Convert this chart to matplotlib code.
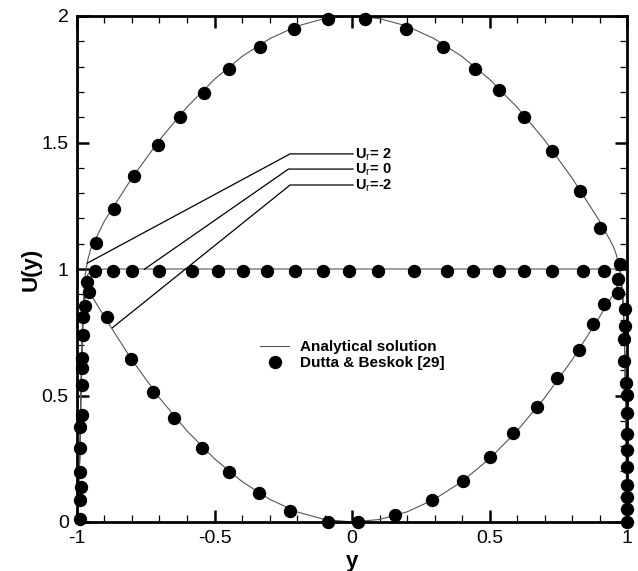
import matplotlib
matplotlib.use("Agg")
import matplotlib.pyplot as plt
from matplotlib.ticker import MultipleLocator, FormatStrFormatter

plt.rcParams['font.family'] = ['Liberation Sans', 'DejaVu Sans']
plt.rcParams['axes.unicode_minus'] = False
plt.rcParams['mathtext.fontset'] = 'custom'
plt.rcParams['mathtext.rm'] = 'Liberation Sans'
plt.rcParams['mathtext.bf'] = 'Liberation Sans:bold'

# analytical solution
y_line = [-1.0, -0.99, -0.985, -0.98, -0.975, -0.97, -0.96, -0.95, -0.9,
          -0.8, -0.7, -0.6, -0.5, -0.4, -0.3, -0.2, -0.1, 0.0,
          0.1, 0.2, 0.3, 0.4, 0.5, 0.6, 0.7, 0.8,
          0.9, 0.95, 0.96, 0.97, 0.975, 0.98, 0.985, 0.99, 0.995, 1.0]
u_line_p2 = [0.0, 0.25, 0.55, 0.78, 0.90, 0.98, 1.04, 1.08, 1.19,
             1.36, 1.51, 1.64, 1.75, 1.84, 1.91, 1.96, 1.99, 2.0,
             1.99, 1.96, 1.91, 1.84, 1.75, 1.64, 1.51, 1.36,
             1.19, 1.09, 1.06, 1.02, 1.0, 0.95, 0.88, 0.75, 0.5, 0.0]
u_line_0 = [0.0, 0.25, 0.55, 0.76, 0.86, 0.93, 0.98, 0.99, 1.0,
            1.0, 1.0, 1.0, 1.0, 1.0, 1.0, 1.0, 1.0, 1.0,
            1.0, 1.0, 1.0, 1.0, 1.0, 1.0, 1.0, 1.0,
            1.0, 1.0, 1.0, 1.0, 0.99, 0.95, 0.88, 0.75, 0.5, 0.0]
u_line_m2 = [0.0, 0.25, 0.55, 0.74, 0.84, 0.89, 0.92, 0.90, 0.81,
             0.64, 0.49, 0.36, 0.25, 0.16, 0.09, 0.04, 0.01, 0.0,
             0.01, 0.04, 0.09, 0.16, 0.25, 0.36, 0.49, 0.64,
             0.81, 0.90, 0.92, 0.95, 0.96, 0.93, 0.87, 0.75, 0.5, 0.0]

# Dutta & Beskok [29] points
y_dot_p2 = [-0.932, -0.865, -0.791, -0.705, -0.625, -0.538, -0.448, -0.333, -0.210, -0.089,
            0.048, 0.195, 0.332, 0.449, 0.536, 0.626, 0.727, 0.828, 0.902, 0.973]
u_dot_p2 = [1.102, 1.237, 1.369, 1.490, 1.602, 1.697, 1.791, 1.876, 1.947, 1.987,
            1.987, 1.947, 1.876, 1.791, 1.706, 1.602, 1.466, 1.308, 1.161, 1.018]

y_dot_0 = [-0.936, -0.868, -0.801, -0.701, -0.582, -0.486, -0.396, -0.308, -0.207, -0.106, -0.010,
           0.094, 0.226, 0.344, 0.440, 0.535, 0.626, 0.726, 0.839, 0.915]
u_dot_0 = [0.993] * len(y_dot_0)

y_dot_m2 = [-0.956, -0.891, -0.805, -0.722, -0.649, -0.544, -0.449, -0.339, -0.227, -0.089,
            0.023, 0.158, 0.290, 0.405, 0.501, 0.585, 0.672, 0.747, 0.824, 0.875, 0.915, 0.967, 0.969]
u_dot_m2 = [0.910, 0.809, 0.644, 0.515, 0.412, 0.294, 0.199, 0.113, 0.045, 0.001,
            0.0, 0.028, 0.087, 0.163, 0.258, 0.353, 0.456, 0.568, 0.680, 0.781, 0.860, 0.904, 0.962]

# points inside the wall layers
y_dot_wall = [-0.965, -0.971, -0.977, -0.979, -0.983, -0.983, -0.983, -0.983,
              -0.989, -0.989, -0.989, -0.987, -0.989, -0.989,
              0.993, 0.993, 0.990, 0.990, 0.996, 0.999, 0.999,
              1.0, 1.0, 1.0, 1.0, 1.0, 1.0, 0.999]
u_dot_wall = [0.950, 0.854, 0.809, 0.739, 0.647, 0.607, 0.541, 0.423,
              0.377, 0.291, 0.199, 0.140, 0.087, 0.011,
              0.842, 0.775, 0.722, 0.638, 0.551, 0.502, 0.430,
              0.348, 0.285, 0.216, 0.146, 0.100, 0.050, 0.001]

case_labels = [r"$\mathbf{U}_\mathrm{r}$= 2", r"$\mathbf{U}_\mathrm{r}$= 0", r"$\mathbf{U}_\mathrm{r}$=-2"]

fig = plt.figure(figsize=(6.38, 5.71), dpi=100)
ax = fig.add_axes([77 / 638, 1 - 522 / 571, 550 / 638, 506 / 571])

line_kw = dict(color='#555555', lw=0.8, zorder=2)
dot_kw = dict(ls='none', marker='o', ms=8.6, color='black', clip_on=False, zorder=4)

ax.plot(y_line, u_line_p2, label='Analytical solution', **line_kw)
ax.plot(y_line, u_line_0, **line_kw)
ax.plot(y_line, u_line_m2, **line_kw)

ax.plot(y_dot_p2, u_dot_p2, label='Dutta & Beskok [29]', **dot_kw)
ax.plot(y_dot_0, u_dot_0, **dot_kw)
ax.plot(y_dot_m2, u_dot_m2, **dot_kw)
ax.plot(y_dot_wall, u_dot_wall, **dot_kw)

# leader lines to the labels
leaders = [([0.004, -0.225, -0.963], [1.455, 1.455, 1.023]),
           ([0.004, -0.231, -0.755], [1.395, 1.395, 0.999]),
           ([0.004, -0.225, -0.871], [1.332, 1.332, 0.768])]
label_u = [1.4375, 1.378, 1.315]
for (lx, lu), txt, tu in zip(leaders, case_labels, label_u):
    ax.plot(lx, lu, color='black', lw=0.9, zorder=3)
    ax.text(0.012, tu, txt, fontsize=10.5, fontweight='bold', ha='left', va='baseline')

ax.set_xlim(-1, 1)
ax.set_ylim(0, 2)
ax.xaxis.set_major_locator(MultipleLocator(0.5))
ax.xaxis.set_minor_locator(MultipleLocator(0.1))
ax.yaxis.set_major_locator(MultipleLocator(0.5))
ax.yaxis.set_minor_locator(MultipleLocator(0.1))
ax.xaxis.set_major_formatter(FormatStrFormatter('%g'))
ax.yaxis.set_major_formatter(FormatStrFormatter('%g'))

ax.tick_params(which='both', direction='in', top=True, right=True)
ax.tick_params(which='major', length=8.6, width=1.8, labelsize=14, pad=6)
ax.tick_params(which='minor', length=4.7, width=0.9)
for sp in ax.spines.values():
    sp.set_linewidth(2)

ax.set_xlabel('y', fontsize=16, fontweight='bold')
ax.set_ylabel('U(y)', fontsize=16, fontweight='bold')
ax.xaxis.set_label_coords(0.5, -0.058)
ax.yaxis.set_label_coords(-0.065, 0.5)

ax.legend(loc='center left', bbox_to_anchor=(0.333, 0.33), frameon=False,
          prop={'size': 11, 'weight': 'bold'}, handlelength=1.9, handletextpad=0.7,
          labelspacing=0.15, borderpad=0, borderaxespad=0)

fig.savefig('out.png', dpi=100)
